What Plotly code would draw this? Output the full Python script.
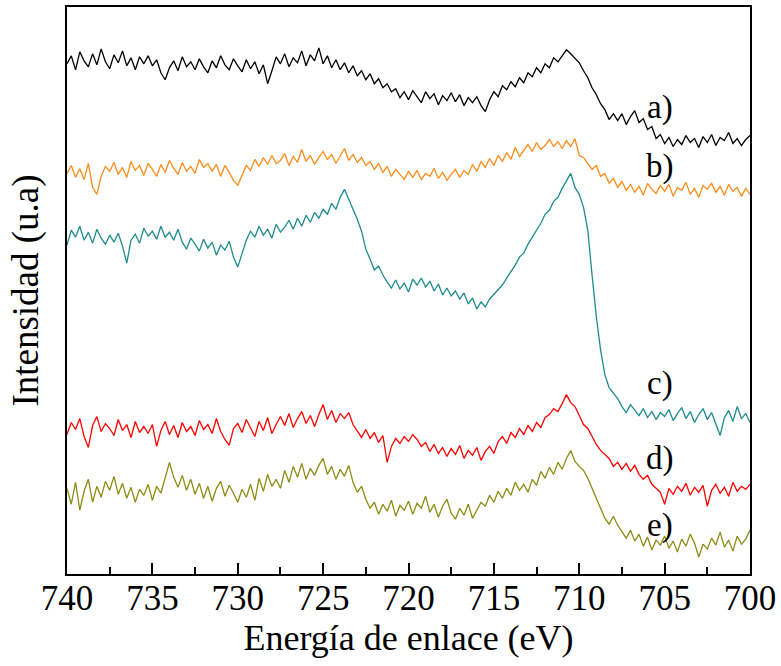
import numpy as np
import plotly.graph_objects as go

# Binding energy grid (eV), 740 -> 700 in 0.25 eV steps
energia = np.round(np.arange(740.0, 699.99, -0.25), 2)

serie_a = [512, 520, 506, 524, 515, 509, 522, 511, 527, 514,
           507, 521, 513, 525, 510, 518, 506, 519, 512, 520,
           510, 516, 503, 496, 508, 515, 505, 519, 509, 514,
           506, 517, 509, 503, 515, 508, 520, 511, 506, 517,
           510, 504, 516, 507, 514, 502, 511, 492, 505, 519,
           512, 522, 509, 518, 513, 525, 510, 521, 515, 528,
           512, 520, 508, 516, 506, 513, 503, 510, 500, 505,
           496, 502, 492, 497, 488, 492, 484, 487, 478, 484,
           476, 485, 479, 473, 484, 477, 482, 471, 480, 475,
           483, 474, 481, 470, 478, 473, 479, 470, 464, 476,
           484, 479, 490, 486, 494, 489, 498, 493, 503, 499,
           508, 503, 512, 508, 518, 514, 520, 526, 522, 518,
           513, 505, 498, 488, 481, 472, 466, 456, 462, 455,
           462, 451, 459, 465, 453, 457, 446, 449, 437, 441,
           432, 438, 429, 436, 431, 440, 433, 437, 428, 439,
           433, 441, 430, 438, 435, 443, 432, 437, 430, 436,
           440]

serie_b = [402, 410, 398, 407, 396, 412, 388, 381, 399, 409,
           404, 413, 401, 408, 398, 414, 405, 410, 400, 412,
           406, 399, 411, 403, 415, 407, 401, 413, 404, 409,
           402, 416, 408, 412, 404, 411, 399, 410, 403, 395,
           390, 401, 410, 405, 416, 409, 418, 411, 420, 412,
           415, 422, 410, 419, 413, 426, 414, 420, 411, 418,
           424, 416, 421, 412, 419, 427, 415, 421, 413, 418,
           410, 414, 406, 412, 403, 409, 399, 406, 401, 396,
           404, 398, 405, 396, 402, 399, 407, 397, 403, 395,
           401, 406, 398, 405, 401, 411, 404, 414, 408, 417,
           410, 420, 414, 423, 416, 428, 419, 425, 431, 424,
           433, 426, 430, 436, 429, 434, 427, 435, 429, 437,
           420, 418, 412, 406, 410, 399, 402, 392, 397, 388,
           394, 385, 391, 383, 389, 380, 392, 386, 382, 390,
           384, 391, 379, 388, 385, 393, 381, 387, 378, 390,
           386, 392, 383, 389, 380, 391, 384, 388, 379, 387,
           381]

serie_c = [330, 345, 338, 349, 335, 343, 332, 346, 337, 331,
           340, 333, 342, 329, 312, 335, 341, 332, 347, 339,
           344, 336, 349, 338, 343, 335, 346, 333, 326, 337,
           331, 324, 336, 327, 333, 320, 330, 325, 334, 318,
           308, 322, 335, 344, 338, 349, 340, 346, 337, 351,
           343, 348, 355, 346, 357, 349, 360, 353, 363, 357,
           366, 361, 372, 366, 378, 386, 376, 366, 356, 344,
           326, 316, 305, 309, 300, 293, 287, 295, 286, 292,
           283, 296, 290, 297, 288, 294, 284, 291, 280, 287,
           279, 284, 276, 282, 271, 277, 266, 273, 268, 276,
           281, 286, 290, 297, 303, 310, 318, 322, 331, 338,
           345, 352, 361, 365, 374, 378, 387, 394, 402, 388,
           381, 368, 345, 300, 258, 225, 200, 187, 182, 176,
           168, 162, 170, 164, 159, 166, 157, 163, 155, 162,
           158, 165, 154, 161, 167, 156, 163, 152, 160, 166,
           155, 162, 150, 139, 157, 164, 153, 168, 156, 161,
           152]

serie_d = [140, 152, 145, 156, 138, 127, 149, 158, 143, 151,
           146, 139, 155, 144, 150, 137, 153, 142, 148, 141,
           150, 128, 144, 153, 140, 149, 137, 152, 143, 148,
           139, 154, 145, 150, 141, 156, 143, 135, 129, 146,
           151, 142, 155, 147, 138, 153, 144, 157, 141, 150,
           158, 149, 161, 147, 156, 163, 151, 159, 148, 160,
           170, 155, 164, 152, 161, 156, 162, 150, 143, 137,
           145, 136, 142, 132, 139, 112, 128, 136, 131, 138,
           133, 140, 135, 128, 132, 123, 130, 121, 127, 118,
           126, 120, 129, 116, 124, 119, 127, 114, 123, 128,
           121, 133, 138, 131, 142, 137, 146, 140, 149, 143,
           152, 147, 157, 160, 166, 163, 171, 180, 172, 168,
           159, 150, 146, 138, 130, 124, 120, 116, 108, 112,
           105, 111, 103, 109, 100, 95, 99, 90, 86, 82,
           70, 86, 80, 88, 83, 91, 79, 87, 82, 89,
           68, 84, 90, 81, 87, 78, 92, 83, 88, 85,
           90]

serie_e = [86, 70, 92, 64, 83, 95, 72, 88, 77, 93,
           84, 98, 80, 91, 76, 87, 72, 85, 79, 90,
           74, 88, 81, 96, 112, 97, 87, 99, 84, 95,
           80, 91, 76, 88, 73, 86, 93, 78, 89, 81,
           72, 85, 77, 90, 74, 96, 83, 100, 88, 95,
           86, 104, 92, 108, 97, 111, 95, 106, 99, 109,
           116, 100, 108, 95, 105, 98, 109, 92, 82, 88,
           75, 66, 72, 60, 70, 63, 74, 58, 69, 64,
           73, 60, 71, 66, 78, 62, 70, 57, 68, 75,
           61, 55, 66, 59, 70, 56, 64, 72, 68, 79,
           72, 83, 76, 86, 79, 92, 84, 90, 82, 95,
           89, 103, 96, 107, 100, 112, 105, 116, 124, 113,
           108, 104, 96, 86, 75, 66, 56, 50, 58, 49,
           42, 36, 44, 33, 40, 28, 37, 24, 34, 29,
           38, 26, 33, 22, 35, 28, 40, 31, 17, 30,
           25, 36, 29, 42, 27, 34, 23, 38, 30, 35,
           44]

etiquetas = ["a)", "b)", "c)", "d)", "e)"]
colores = ["#000000", "#FF8C1A", "#1E8C8C", "#FF0000", "#8C8C14"]
series = [serie_a, serie_b, serie_c, serie_d, serie_e]
# label anchor positions (energy, intensity)
etiqueta_x = [705.3, 705.3, 705.3, 705.3, 705.3]
etiqueta_y = [468, 409, 191, 116, 49]

FONT = "Liberation Serif"

fig = go.Figure()
for s, c in zip(series, colores):
    fig.add_trace(go.Scatter(x=energia, y=s, mode="lines",
                             line=dict(color=c, width=1.3),
                             showlegend=False, hoverinfo="skip"))

for t, xx, yy in zip(etiquetas, etiqueta_x, etiqueta_y):
    fig.add_annotation(x=xx, y=yy, text=t, showarrow=False,
                       font=dict(family=FONT, size=33, color="black"),
                       xanchor="center", yanchor="middle")

fig.update_layout(
    width=781, height=666,
    margin=dict(l=67, r=30, t=5, b=92),
    paper_bgcolor="white", plot_bgcolor="white",
    showlegend=False,
)
fig.update_xaxes(
    range=[740, 700], dtick=5, tick0=700,
    ticks="inside", ticklen=11, tickwidth=2, tickcolor="black",
    minor=dict(dtick=2.5, ticks="inside", ticklen=7, tickwidth=2, tickcolor="black"),
    showline=True, linecolor="black", linewidth=2, mirror=True,
    showgrid=False, zeroline=False,
    tickfont=dict(family=FONT, size=35, color="black"),
    ticklabelstandoff=-8,
    title=dict(text="Energía de enlace (eV)", font=dict(family=FONT, size=36, color="black"), standoff=8),
)
fig.update_yaxes(
    range=[0, 569], showticklabels=False, ticks="",
    showline=True, linecolor="black", linewidth=2, mirror=True,
    showgrid=False, zeroline=False,
    title=dict(text="Intensidad (u.a)", font=dict(family=FONT, size=37, color="black"), standoff=15),
)

fig.write_html("out.html")
